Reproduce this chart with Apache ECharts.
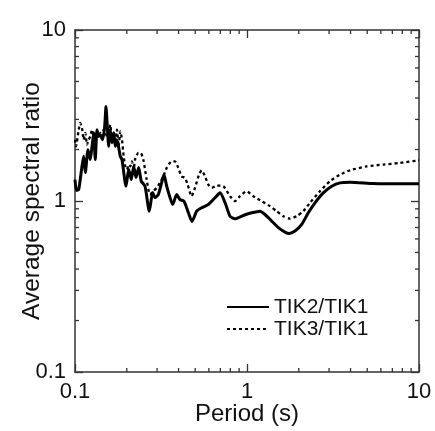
<!DOCTYPE html>
<html>
<head>
<meta charset="utf-8">
<script src="https://cdn.jsdelivr.net/npm/echarts@6/dist/echarts.min.js"></script>
<style>html,body{margin:0;padding:0;background:#fff}#c{width:435px;height:431px}</style>
</head>
<body>
<div id="c"></div>
<script>
// TIK2/TIK1 (solid)
const periods2 = [0.100,0.102,0.1051,0.1098,0.1123,0.1148,0.1190,0.1227,0.1256,0.1284,0.1312,0.1342,0.1373,0.1403,0.1449,0.1488,0.1514,0.1541,0.1570,0.1603,0.1641,0.1679,0.1715,0.1754,0.1834,0.1876,0.1979,0.2052,0.2125,0.2195,0.2263,0.2346,0.2429,0.2553,0.2704,0.2829,0.2918,0.3049,0.3190,0.3292,0.3413,0.3567,0.3698,0.3903,0.4078,0.4302,0.4557,0.4788,0.5100,0.5451,0.5957,0.6516,0.6966,0.7451,0.7967,0.8516,0.9517,1.065,1.190,1.273,1.392,1.521,1.663,1.762,1.901,2.080,2.272,2.485,2.777,3.108,3.473,3.970,5.424,7.754,10];
const ratios2 = [1.335,1.151,1.167,1.595,1.825,1.466,1.997,1.746,2.087,2.508,1.746,2.612,2.387,2.443,2.284,2.731,3.571,2.731,2.087,2.612,2.193,2.508,2.087,2.284,1.825,1.746,1.220,1.526,1.335,1.595,1.371,1.568,1.305,1.220,0.872,1.121,1.048,1.091,1.282,1.427,1.220,1.048,0.954,1.091,1.020,0.997,0.857,0.759,0.872,0.913,0.954,1.044,1.116,0.980,0.815,0.788,0.823,0.853,0.872,0.834,0.763,0.698,0.658,0.646,0.667,0.730,0.853,0.976,1.116,1.220,1.277,1.287,1.265,1.260,1.260];
// TIK3/TIK1 (dotted)
const periods3 = [0.100,0.1013,0.1051,0.1074,0.1098,0.1123,0.1148,0.1174,0.1201,0.1227,0.1256,0.1284,0.1312,0.1342,0.1373,0.1403,0.1435,0.1467,0.1500,0.1534,0.1570,0.1603,0.1641,0.1679,0.1715,0.1754,0.1794,0.1834,0.1876,0.1918,0.1960,0.2005,0.2052,0.2096,0.2143,0.2195,0.2233,0.2334,0.2409,0.2495,0.2610,0.2729,0.2853,0.2985,0.3119,0.3262,0.3413,0.3648,0.3812,0.3985,0.4166,0.4357,0.4516,0.4763,0.4985,0.5259,0.5451,0.5697,0.5957,0.6233,0.6669,0.7292,0.7967,0.8516,0.9101,0.9950,1.088,1.216,1.360,1.487,1.626,1.778,1.943,2.125,2.322,2.655,3.036,3.473,3.970,4.964,6.206,7.754,10];
const ratios3 = [2.284,2.087,2.612,2.858,2.672,2.284,2.498,2.135,2.284,2.387,2.612,2.284,2.498,2.553,2.387,2.498,2.284,2.612,2.553,2.387,2.498,2.793,2.284,2.498,2.185,2.612,2.087,2.553,2.284,1.825,1.595,1.526,1.632,1.595,1.707,1.526,1.746,1.910,1.910,1.746,1.335,1.091,1.141,1.194,1.277,1.395,1.562,1.707,1.707,1.562,1.395,1.365,1.248,1.067,1.194,1.427,1.512,1.395,1.248,1.194,1.231,1.220,1.067,0.997,1.067,1.141,1.067,0.997,0.933,0.872,0.815,0.788,0.815,0.872,0.976,1.141,1.305,1.427,1.512,1.595,1.632,1.670,1.730];
const seriesNames = ['TIK2/TIK1','TIK3/TIK1'];
const xTitle = 'Period (s)';
const yTitle = 'Average spectral ratio';
// minor tick values (2..9 in each decade) for both log axes
const minorTickValues = [0.2,0.3,0.4,0.5,0.6,0.7,0.8,0.9,2,3,4,5,6,7,8,9];
const axisMin = 0.1, axisMax = 10;

const pair = (p, r) => p.map((v, i) => [v, r[i]]);
const font = 'Liberation Sans, Arial, sans-serif';
const AX = '#333';
const axisCommon = {
  type: 'log', logBase: 10, min: axisMin, max: axisMax,
  axisLine: { show: true, lineStyle: { color: AX, width: 1.5 } },
  axisTick: { show: true, inside: true, length: 8, lineStyle: { color: AX, width: 1.3 } },
  minorTick: { show: false },
  splitLine: { show: false }, minorSplitLine: { show: false }
};
const tickLine = (x1, y1, x2, y2) => ({ type: 'line', shape: { x1, y1, x2, y2 }, style: { stroke: AX, lineWidth: 1.3 } });
const MINOR = 4;
const chart = echarts.init(document.getElementById('c'), null, { renderer: 'canvas' });
chart.setOption({
  animation: false,
  backgroundColor: '#fff',
  grid: { left: 75, right: 16, top: 30, bottom: 58, containLabel: false },
  legend: {
    orient: 'vertical', left: 221, top: 291, itemGap: 0, itemWidth: 42, itemHeight: 14,
    itemStyle: { opacity: 0, borderWidth: 0 },
    textStyle: { fontFamily: font, fontSize: 21, color: '#111', lineHeight: 22 },
    data: seriesNames
  },
  xAxis: [
    Object.assign({}, axisCommon, {
      position: 'bottom', name: xTitle, nameLocation: 'middle', nameGap: 30, nameMoveOverlap: false,
      nameTextStyle: { fontFamily: font, fontSize: 24, color: '#111' },
      axisLabel: { show: true, margin: 9, fontFamily: font, fontSize: 22, color: '#111' }
    }),
    Object.assign({}, axisCommon, { position: 'top', axisLabel: { show: false } })
  ],
  yAxis: [
    Object.assign({}, axisCommon, {
      position: 'left', name: yTitle, nameLocation: 'middle', nameGap: 30, nameMoveOverlap: false,
      nameTextStyle: { fontFamily: font, fontSize: 24.5, color: '#111' },
      axisLabel: { show: true, margin: 9, fontFamily: font, fontSize: 22, color: '#111' }
    }),
    Object.assign({}, axisCommon, { position: 'right', axisLabel: { show: false } })
  ],
  series: [
    { name: seriesNames[0], type: 'line', data: pair(periods2, ratios2), symbol: 'none', smooth: 0.2,
      lineStyle: { color: '#000', width: 3, type: 'solid' }, itemStyle: { color: '#000' } },
    { name: seriesNames[1], type: 'line', data: pair(periods3, ratios3), symbol: 'none', smooth: 0.2,
      lineStyle: { color: '#000', width: 2.3, type: [3, 3] }, itemStyle: { color: '#000' } },
    { type: 'custom', silent: true, clip: false, data: minorTickValues.map(v => [v, axisMin]),
      renderItem: (params, api) => {
        const v = api.value(0);
        const b = api.coord([v, axisMin]), t = api.coord([v, axisMax]);
        return { type: 'group', children: [tickLine(b[0], b[1], b[0], b[1] - MINOR), tickLine(t[0], t[1], t[0], t[1] + MINOR)] };
      } },
    { type: 'custom', silent: true, clip: false, data: minorTickValues.map(v => [axisMin, v]),
      renderItem: (params, api) => {
        const v = api.value(1);
        const l = api.coord([axisMin, v]), r = api.coord([axisMax, v]);
        return { type: 'group', children: [tickLine(l[0], l[1], l[0] + MINOR, l[1]), tickLine(r[0], r[1], r[0] - MINOR, r[1])] };
      } }
  ]
});
</script>
</body>
</html>
